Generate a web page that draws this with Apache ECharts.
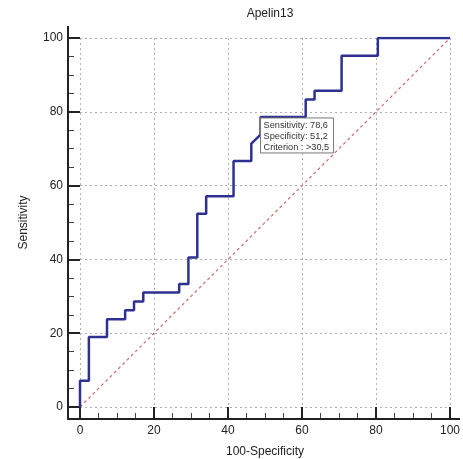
<!DOCTYPE html>
<html>
<head>
<meta charset="utf-8">
<script src="https://cdn.jsdelivr.net/npm/echarts@6/dist/echarts.min.js"></script>
<style>
html,body{margin:0;padding:0;background:#fff;}
#main{width:463px;height:459px;}
</style>
</head>
<body>
<div id="main"></div>
<script>
// ROC curve points: 100-Specificity (x) and Sensitivity (y)
var rocX = [0, 0, 2.4, 2.4, 7.3, 7.3, 12.2, 12.2, 14.6, 14.6, 17.1, 17.1, 26.8, 26.8, 29.3, 29.3, 31.7, 31.7, 34.1, 34.1, 41.5, 41.5, 46.3, 46.3, 48.8, 48.8, 61.0, 61.0, 63.4, 63.4, 70.7, 70.7, 80.5, 80.5, 100];
var rocY = [0, 7.1, 7.1, 19.0, 19.0, 23.8, 23.8, 26.2, 26.2, 28.6, 28.6, 31.0, 31.0, 33.3, 33.3, 40.5, 40.5, 52.4, 52.4, 57.1, 57.1, 66.7, 66.7, 71.4, 73.8, 78.6, 78.6, 83.3, 83.3, 85.7, 85.7, 95.2, 95.2, 100, 100];
var refLine = [[0, 0], [100, 100]];
var tickValues = [0, 20, 40, 60, 80, 100];
// optimal criterion point
var bestPoint = [48.8, 78.6];
var bestLines = ['Sensitivity: 78,6', 'Specificity: 51,2', 'Criterion : >30,5'];

var rocData = [];
for (var i = 0; i < rocX.length; i++) {
    rocData.push([rocX[i], rocY[i]]);
}

var chart = echarts.init(document.getElementById('main'));
var font = 'Liberation Sans, Arial, sans-serif';
var axisCommon = {
    type: 'value',
    min: tickValues[0],
    max: tickValues[tickValues.length - 1],
    interval: 20,
    offset: 12,
    nameLocation: 'middle',
    nameTextStyle: {color: '#222', fontSize: 12, fontFamily: font},
    axisLine: {show: true, onZero: false, lineStyle: {color: '#222', width: 2}},
    axisTick: {show: true, inside: true, length: 12, lineStyle: {color: '#222', width: 2}},
    minorTick: {show: true, splitNumber: 4, length: 6, lineStyle: {color: '#444', width: 1}},
    axisLabel: {color: '#222', fontSize: 12, fontFamily: font},
    splitLine: {show: true, lineStyle: {color: '#b0b0b0', type: [2, 3], width: 1}}
};

var option = {
    backgroundColor: '#fff',
    animation: false,
    title: {
        text: 'Apelin13',
        left: 265,
        top: 3,
        textAlign: 'center',
        textStyle: {color: '#222', fontSize: 12, fontWeight: 'normal', fontFamily: font}
    },
    grid: {left: 80, right: 13, top: 38, bottom: 52, outerBoundsMode: 'none'},
    xAxis: echarts.util.merge({
        name: '100-Specificity',
        nameGap: 27,
        axisLabel: {margin: 6}
    }, axisCommon),
    yAxis: echarts.util.merge({
        name: 'Sensitivity',
        nameGap: 38,
        axisLabel: {margin: 5}
    }, axisCommon),
    series: [
        {
            name: 'reference',
            type: 'line',
            data: refLine,
            symbol: 'none',
            silent: true,
            lineStyle: {color: '#d46a6a', width: 1.2, type: [3, 3]}
        },
        {
            name: 'ROC',
            type: 'line',
            data: rocData,
            symbol: 'none',
            lineStyle: {color: '#2e3192', width: 2.5},
            z: 3
        }
    ]
};
chart.setOption(option);

// axis line extensions and criterion box placed from the chart's own scales
var p0 = chart.convertToPixel({gridIndex: 0}, [0, 0]);
var p1 = chart.convertToPixel({gridIndex: 0}, [100, 100]);
var axX = p0[0] - 12, axY = p0[1] + 12;
var bp = chart.convertToPixel({gridIndex: 0}, bestPoint);
chart.setOption({
    graphic: [
        {type: 'line', shape: {x1: axX, y1: p1[1] - 12, x2: axX, y2: axY + 1}, style: {stroke: '#222', lineWidth: 2}, z: 10},
        {type: 'line', shape: {x1: axX - 1, y1: axY, x2: p1[0] + 10, y2: axY}, style: {stroke: '#222', lineWidth: 2}, z: 10},
        {type: 'rect', shape: {x: bp[0], y: bp[1] + 1, width: 73, height: 35}, style: {fill: '#fff', stroke: '#777', lineWidth: 1}, z: 20},
        {type: 'text', x: bp[0] + 3, y: bp[1] + 3, style: {text: bestLines.join('\n'), fill: '#333', font: '9.2px ' + font, lineHeight: 11}, z: 21}
    ]
});
</script>
</body>
</html>
